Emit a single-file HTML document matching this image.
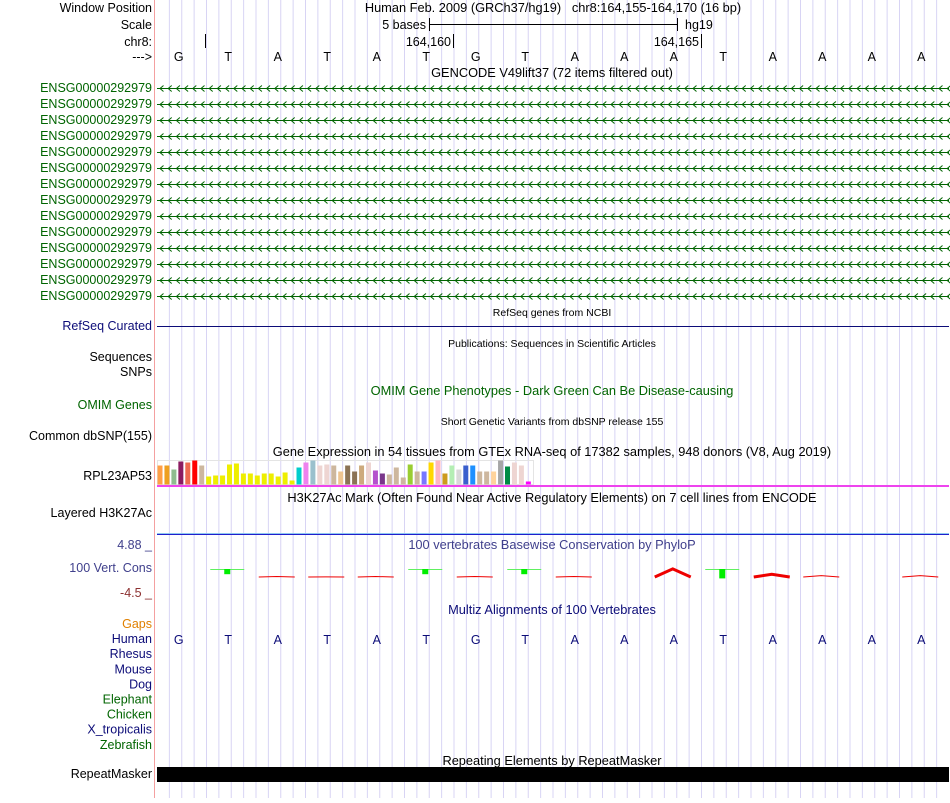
<!DOCTYPE html>
<html><head><meta charset="utf-8"><style>
body{margin:0;background:#fff;width:950px;height:798px;overflow:hidden}
svg{font-family:"Liberation Sans",sans-serif;font-size:12.5px}
text{white-space:pre}
</style></head><body>
<svg id="s" width="950" height="798">
<g id="grid"></g>
<line x1="154.5" y1="0" x2="154.5" y2="798" stroke="#f4a0a0"/>
<g text-anchor="end" id="labels"></g>
<g id="tracks"></g>
</svg>
<script>
const bases=["G","T","A","T","A","T","G","T","A","A","A","T","A","A","A","A"];
const gtexVals=[19,19,15,23,22,24,19,8,9,9,20,21,11,11,9,11,11,8,12,4,17,22,24,19,20,19,13,19,13,19,22,14,11,10,17,7,20,13,13,22,24,11,19,15,19,19,13,13,13,24,18,22,19,3];
const gtexColors=["#FF9F46","#EE9F1F","#8FBC8F","#8B1C62","#EE6A50","#FF0000","#CDB79E","#EEEE00","#EEEE00","#EEEE00","#EEEE00","#EEEE00","#EEEE00","#EEEE00","#EEEE00","#EEEE00","#EEEE00","#EEEE00","#EEEE00","#EEEE00","#00CDCD","#EE82EE","#9AC0CD","#EED5D2","#EED5D2","#CDB79E","#EEC591","#8B7355","#8B7355","#CDAA7D","#EED5D2","#B452CD","#7A378B","#CDB79E","#CDB79E","#CDB79E","#9ACD32","#CDB79E","#7777FF","#FFD700","#FFB6C1","#CD9B1D","#B4EEB4","#D9D9D9","#3A5FCD","#1E90FF","#CDB79E","#CDB79E","#FFD39B","#A6A6A6","#008B45","#EED5D2","#EED5D2","#FF00FF"];
const consVals=[0,0.3,-0.05,-0.02,-0.05,0.3,-0.05,0.3,-0.05,0,-0.9,0.6,-0.3,-0.15,0,-0.15];
const X0=157,X1=949,BW=(X1-X0)/16;
const xb=i=>X0+BW*(i+0.5);
const s=document.getElementById('s');
function el(p,tag,a,txt){const e=document.createElementNS("http://www.w3.org/2000/svg",tag);for(const k in a)e.setAttribute(k,a[k]);if(txt!=null)e.textContent=txt;p.appendChild(e);return e;}
const grid=document.getElementById('grid'),L=document.getElementById('labels'),T=document.getElementById('tracks');
for(let k=1;k<64;k++){const g=el(grid,'line',{x1:X0+k*BW/4,x2:X0+k*BW/4,y1:0,y2:798,stroke:'#d8d4f4'});

}
function lab(y,t,c){const e=el(L,'text',{x:152,y:y,fill:c||'#000'},t);

return e;}
lab(12,"Window Position");lab(29,"Scale");lab(46,"chr8:");lab(61,"--->");
for(let i=0;i<14;i++)lab(92+i*16,"ENSG00000292979","#006400");
lab(330,"RefSeq Curated","#0c0c78");lab(361,"Sequences");lab(376,"SNPs");
lab(409,"OMIM Genes","#006400");lab(440,"Common dbSNP(155)");lab(480,"RPL23AP53");
lab(517,"Layered H3K27Ac");lab(572,"100 Vert. Cons","#40408c");
lab(549,"4.88 _","#40408c");lab(597,"-4.5 _","#8c3030");
const al=[["Gaps","#e08000"],["Human","#0c0c78"],["Rhesus","#0c0c78"],["Mouse","#0c0c78"],["Dog","#0c0c78"],["Elephant","#006400"],["Chicken","#006400"],["X_tropicalis","#0c0c78"],["Zebrafish","#006400"]];
al.forEach((a,i)=>lab(628+i*15.1,a[0],a[1]));
lab(778,"RepeatMasker");
function ct(x,y,t,c,fs){const e=el(T,'text',{x:x,y:y,fill:c||'#000','text-anchor':'middle','font-size':fs||12.8},t);

}
ct(553,12,"Human Feb. 2009 (GRCh37/hg19)   chr8:164,155-164,170 (16 bp)");
el(T,'text',{x:426,y:29,'text-anchor':'end'},"5 bases");
el(T,'line',{x1:429.5,x2:677.5,y1:24.5,y2:24.5,stroke:'#000'});
el(T,'line',{x1:429.5,x2:429.5,y1:18,y2:31,stroke:'#000'});
el(T,'line',{x1:677.5,x2:677.5,y1:18,y2:31,stroke:'#000'});
el(T,'text',{x:685,y:29},"hg19");
el(T,'line',{x1:205.5,x2:205.5,y1:34,y2:48,stroke:'#000'});
el(T,'text',{x:451,y:46,'text-anchor':'end'},"164,160");
el(T,'line',{x1:453.5,x2:453.5,y1:34,y2:48,stroke:'#000'});
el(T,'text',{x:699,y:46,'text-anchor':'end'},"164,165");
el(T,'line',{x1:701.5,x2:701.5,y1:34,y2:48,stroke:'#000'});
bases.forEach((b,i)=>{const e=el(T,'text',{x:xb(i)-3,y:61,'text-anchor':'middle'},b);


const h=el(T,'text',{x:xb(i)-3,y:644,'text-anchor':'middle',fill:'#0c0c78'},b);

});
ct(552,77,"GENCODE V49lift37 (72 items filtered out)");
for(let r=0;r<14;r++){const y=88.5+r*16;
const g=el(T,'g',{});


el(g,'line',{x1:157,x2:949,y1:y,y2:y,stroke:'#006400'});
let p='';for(let x=160;x<948;x+=8.2)p+=`M${x+3.5},${y-3}L${x},${y}L${x+3.5},${y+3}`;
el(g,'path',{d:p,stroke:'#006400',fill:'none','stroke-width':1});}
ct(552,316,"RefSeq genes from NCBI","#000",10.5);
el(T,'line',{x1:157,x2:949,y1:326.5,y2:326.5,stroke:'#0c0c78'});
ct(552,347,"Publications: Sequences in Scientific Articles","#000",10.5);
ct(552,395,"OMIM Gene Phenotypes - Dark Green Can Be Disease-causing","#006400");
ct(552,425,"Short Genetic Variants from dbSNP release 155","#000",10.5);
ct(552,456,"Gene Expression in 54 tissues from GTEx RNA-seq of 17382 samples, 948 donors (V8, Aug 2019)");
el(T,'rect',{x:157.5,y:460.5,width:376,height:24,fill:'none',stroke:'#e4e4e4'});
const base=484.5,sc=1;
gtexVals.forEach((v,i)=>{const r=el(T,'rect',{x:157.5+i*6.95,y:base-v*sc,width:5,height:v*sc,fill:gtexColors[i]});

});
el(T,'rect',{x:157,y:485,width:792,height:2,fill:'#ee44ee'});
ct(552,502,"H3K27Ac Mark (Often Found Near Active Regulatory Elements) on 7 cell lines from ENCODE");
el(T,'line',{x1:157,x2:949,y1:533.5,y2:533.5,stroke:'#8fc8f0'});
el(T,'line',{x1:157,x2:949,y1:534.5,y2:534.5,stroke:'#2020cc'});
ct(552,549,"100 vertebrates Basewise Conservation by PhyloP","#40408c");
consVals.forEach((v,i)=>{if(v===0)return;const c=v>0?'#00ee00':'#ee0000';
const g=el(T,'g',{});


const cx=xb(i)-4;
if(v>0){el(g,'line',{x1:cx-17,x2:cx+17,y1:569.5,y2:569.5,stroke:'#60f060'});
el(g,'rect',{x:cx-3,y:569,width:6,height:v*14+1,fill:c});}
else{el(g,'path',{d:`M${cx-18},${577}L${cx},${577+v*9}L${cx+18},${577}`,stroke:c,fill:'none','stroke-width':v<-0.2?3:1});}});
ct(552,614,"Multiz Alignments of 100 Vertebrates","#0c0c78");
ct(552,765,"Repeating Elements by RepeatMasker");
const rm=el(T,'rect',{x:157,y:767,width:792,height:15,fill:'#000'});


</script>
</body></html>
